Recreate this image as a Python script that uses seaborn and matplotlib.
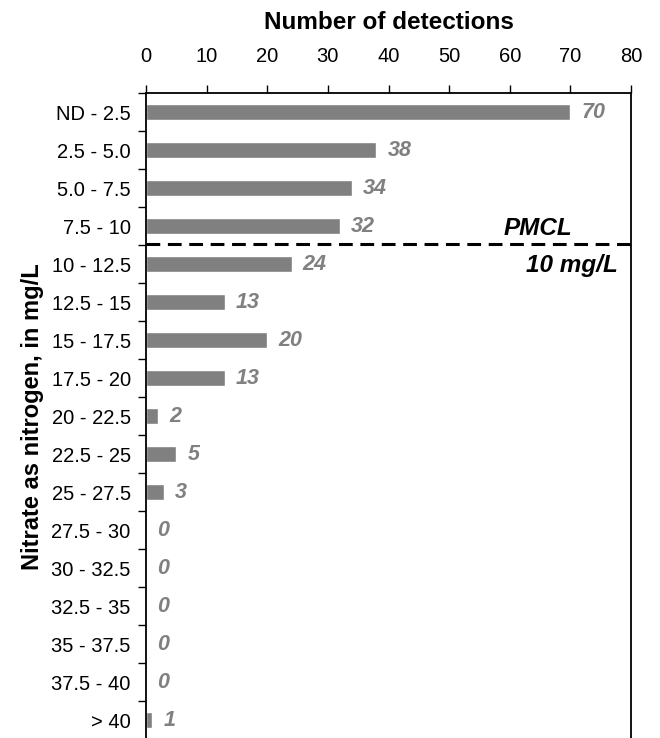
import numpy as np
import pandas as pd
import matplotlib
matplotlib.use("Agg")
import matplotlib.pyplot as plt
import seaborn as sns

categories = ["ND - 2.5", "2.5 - 5.0", "5.0 - 7.5", "7.5 - 10", "10 - 12.5",
              "12.5 - 15", "15 - 17.5", "17.5 - 20", "20 - 22.5", "22.5 - 25",
              "25 - 27.5", "27.5 - 30", "30 - 32.5", "32.5 - 35", "35 - 37.5",
              "37.5 - 40", "> 40"]
detections = [70, 38, 34, 32, 24, 13, 20, 13, 2, 5, 3, 0, 0, 0, 0, 0, 1]
x_ticks = [0, 10, 20, 30, 40, 50, 60, 70, 80]

sns.set_theme(style="white")
plt.rcParams["font.family"] = ["Liberation Sans", "DejaVu Sans"]
plt.rcParams.update({"text.color": "black", "axes.labelcolor": "black",
                     "xtick.color": "black", "ytick.color": "black"})

df = pd.DataFrame({"range": categories, "count": detections})

fig = plt.figure(figsize=(6.6, 7.38), dpi=100)
ax = fig.add_axes([146 / 660, -0.002, (631 - 146) / 660, (738 - 92) / 738])

sns.barplot(data=df, y="range", x="count", orient="h", color="#808080",
            saturation=1, width=0.42, ax=ax)

ax.set_xlim(0, 80)
ax.set_ylim(len(categories) - 0.5, -0.5)

# x axis on top
ax.xaxis.tick_top()
ax.xaxis.set_label_position("top")
ax.set_xticks(x_ticks)
ax.set_xticklabels([str(t) for t in x_ticks], fontsize=14.5)
ax.set_xlabel("Number of detections", fontsize=17.5, fontweight="bold",
              labelpad=12.5)
ax.tick_params(axis="x", which="major", direction="out", length=6, width=1,
               color="black", pad=14, top=True, bottom=False)

# y axis: labels at category centres, ticks on category boundaries
ax.set_yticks(np.arange(len(categories)))
ax.set_yticklabels(categories, fontsize=14.5)
ax.set_yticks(np.arange(len(categories) + 1) - 0.5, minor=True)
ax.tick_params(axis="y", which="major", length=0, pad=11, left=True)
ax.tick_params(axis="y", which="minor", direction="out", length=6, width=1,
               color="black", left=True)
ax.set_ylabel("Nitrate as nitrogen, in mg/L", fontsize=17, fontweight="bold",
              labelpad=5.5)

for side in ["left", "right", "top"]:
    ax.spines[side].set_visible(True)
    ax.spines[side].set_color("black")
    ax.spines[side].set_linewidth(1.3)
ax.spines["bottom"].set_visible(False)

# value labels
for i, v in enumerate(detections):
    ax.annotate(str(v), xy=(v, i), xytext=(8, 0), textcoords="offset points",
                ha="left", va="center", fontsize=15.5, fontweight="bold",
                fontstyle="italic", color="#808080")

# 10 mg/L limit line between 7.5-10 and 10-12.5
ax.axhline(3.47, color="black", linestyle=(0, (4.5, 2.5)), linewidth=2.2)
ax.text(70.4, 3.05, "PMCL", ha="right", va="center", fontsize=17.5,
        fontweight="bold", fontstyle="italic", color="black")
ax.text(77.9, 4.02, "10 mg/L", ha="right", va="center", fontsize=17.5,
        fontweight="bold", fontstyle="italic", color="black")

fig.savefig("out.png", dpi=100)
